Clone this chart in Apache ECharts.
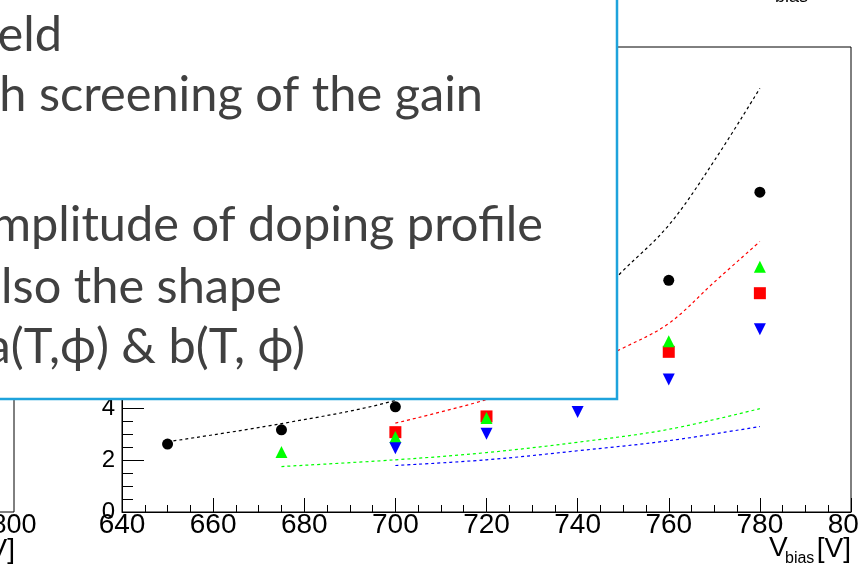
<!DOCTYPE html>
<html>
<head>
<meta charset="utf-8">
<script src="https://cdn.jsdelivr.net/npm/echarts@6/dist/echarts.min.js"></script>
<style>
html,body{margin:0;padding:0;background:#fff;}
#c{width:859px;height:570px;}
</style>
</head>
<body>
<div id="c"></div>
<script>
// ---- data ----
const vbias      = [650, 675, 700, 720, 740, 760, 780];
const measBlack  = [2.63, 3.18, 4.07, 5.3, 6.6, 8.97, 12.38];
const measRed    = [null, null, 3.09, 3.70, 5.0, 6.2, 8.47];
const measGreen  = [null, 2.32, 2.90, 3.64, 5.2, 6.61, 9.49];
const measBlue   = [null, null, 2.47, 3.03, 3.87, 5.13, 7.07];

const simBlackX  = [650, 675, 700, 720, 740, 750, 760, 770, 780];
const simBlack   = [2.72, 3.42, 4.32, 5.6, 7.6, 9.35, 11.1, 13.6, 16.4];
const simRedX    = [700, 720, 740, 750, 760, 770, 780];
const simRed     = [3.44, 4.35, 5.55, 6.35, 7.3, 8.9, 10.47];
const simGreenX  = [675, 700, 720, 740, 760, 780];
const simGreen   = [1.76, 2.02, 2.3, 2.7, 3.2, 4.0];
const simBlueX   = [700, 720, 740, 760, 780];
const simBlue    = [1.8, 2.02, 2.37, 2.76, 3.31];

const xMin = 640, xMax = 800, xStep = 20;
const yMin = 0, yMax = 18, yStep = 2;

const boxLines = [
  {text: 'Electric field', right: 62, base: 50},
  {text: 'with screening of the gain', right: 483, base: 110},
  {text: 'amplitude of doping profile', right: 543, base: 240},
  {text: 'also the shape', right: 282, base: 302},
  {text: 'a(T,\u03d5) & b(T, \u03d5)', right: 305, base: 362}
];

// ---- helpers ----
function pairs(xs, ys) { return xs.map((x, i) => [x, ys[i]]).filter(p => p[1] != null); }
const boxFamily = 'Lato, "Open Sans", "Noto Sans", sans-serif';
function fitSize(str, target) {
  const ctx = document.createElement('canvas').getContext('2d');
  ctx.font = '100px ' + boxFamily;
  return 100 * target / ctx.measureText(str).width;
}
const fs = fitSize('doping profile', 295);

const axisFont = '"Liberation Sans Narrow", "Liberation Sans", Arial, sans-serif';
const yFont = '"Liberation Sans", Arial, sans-serif';

const chart = echarts.init(document.getElementById('c'), null, {renderer: 'canvas'});

function measSeries(name, data, color, symbol, size, rotate) {
  return {
    name, type: 'scatter', data: pairs(vbias, data), symbol, symbolSize: size,
    symbolRotate: rotate || 0, itemStyle: {color, opacity: 1}, z: 5, animation: false
  };
}
function simSeries(name, xs, ys, color) {
  return {
    name, type: 'line', data: pairs(xs, ys), showSymbol: false, symbol: 'none',
    smooth: 0.35, lineStyle: {color, width: 1.2, type: [3, 3]}, z: 3, animation: false
  };
}

const graphics = [];
// neighbouring plot remnants on the left
graphics.push({type: 'line', shape: {x1: 14, y1: 380, x2: 14, y2: 512}, style: {stroke: '#000', lineWidth: 1}, z: 50});
graphics.push({type: 'line', shape: {x1: -2, y1: 512, x2: 14, y2: 512}, style: {stroke: '#000', lineWidth: 1}, z: 50});
graphics.push({type: 'text', style: {text: '800', x: 14, y: 526, align: 'center', verticalAlign: 'middle', fontSize: 27, fontFamily: axisFont, fill: '#000'}, z: 50});
graphics.push({type: 'text', style: {text: '[V]', x: 15, y: 550, align: 'right', verticalAlign: 'middle', fontSize: 28, fontFamily: axisFont, fill: '#000'}, z: 50});
// top-right partial text
graphics.push({type: 'text', style: {text: 'bias', x: 808, y: 6, align: 'right', verticalAlign: 'bottom', fontSize: 18, fontFamily: axisFont, fill: '#000'}, z: 50});
// axis title
graphics.push({type: 'text', style: {text: 'V', x: 769, y: 548, align: 'left', verticalAlign: 'middle', fontSize: 28, fontFamily: axisFont, fill: '#000'}, z: 50});
graphics.push({type: 'text', style: {text: 'bias', x: 785, y: 559, align: 'left', verticalAlign: 'middle', fontSize: 16, fontFamily: axisFont, fill: '#000'}, z: 50});
graphics.push({type: 'text', style: {text: '[V]', x: 851, y: 549, align: 'right', verticalAlign: 'middle', fontSize: 28, fontFamily: axisFont, fill: '#000'}, z: 50});
// overlay text box
graphics.push({type: 'rect', shape: {x: -10, y: -10, width: 627, height: 409}, style: {fill: '#fff', stroke: '#1ea3dc', lineWidth: 2.5}, z: 100});
boxLines.forEach(l => {
  graphics.push({type: 'text', style: {text: l.text, x: l.right, y: l.base - 0.3 * fs, align: 'right', verticalAlign: 'middle', fontSize: fs, fontFamily: boxFamily, fill: '#404040'}, z: 101});
});

const option = {
  animation: false,
  backgroundColor: '#fff',
  grid: {left: 122, right: 8, top: 47, bottom: 58, outerBoundsMode: 'none', containLabel: false, show: true, borderColor: '#000', borderWidth: 1, backgroundColor: '#fff'},
  xAxis: {
    type: 'value', min: xMin, max: xMax, interval: xStep,
    axisLine: {show: true, lineStyle: {color: '#000', width: 1}},
    axisTick: {show: true, inside: true, length: 14, lineStyle: {color: '#000', width: 1}},
    minorTick: {show: true, splitNumber: 4, length: 7, lineStyle: {color: '#000', width: 1}},
    splitLine: {show: false},
    axisLabel: {color: '#000', fontSize: 28, fontFamily: axisFont, margin: 13, verticalAlign: 'middle', showMaxLabel: true, showMinLabel: true, hideOverlap: false}
  },
  yAxis: {
    type: 'value', min: yMin, max: yMax, interval: yStep,
    axisLine: {show: true, lineStyle: {color: '#000', width: 1}},
    axisTick: {show: true, inside: true, length: 22, lineStyle: {color: '#000', width: 1}},
    minorTick: {show: true, splitNumber: 4, length: 11, lineStyle: {color: '#000', width: 1}},
    splitLine: {show: false},
    axisLabel: {color: '#000', fontSize: 24, fontFamily: yFont, margin: 7}
  },
  series: [
    simSeries('sim black', simBlackX, simBlack, '#000000'),
    simSeries('sim red', simRedX, simRed, '#ff0000'),
    simSeries('sim green', simGreenX, simGreen, '#00ff00'),
    simSeries('sim blue', simBlueX, simBlue, '#0000ff'),
    measSeries('meas black', measBlack, '#000000', 'circle', 11),
    measSeries('meas red', measRed, '#ff0000', 'rect', 12),
    measSeries('meas green', measGreen, '#00ff00', 'triangle', 12),
    measSeries('meas blue', measBlue, '#0000ff', 'triangle', 12, 180)
  ],
  graphic: graphics
};
chart.setOption(option);
</script>
</body>
</html>
